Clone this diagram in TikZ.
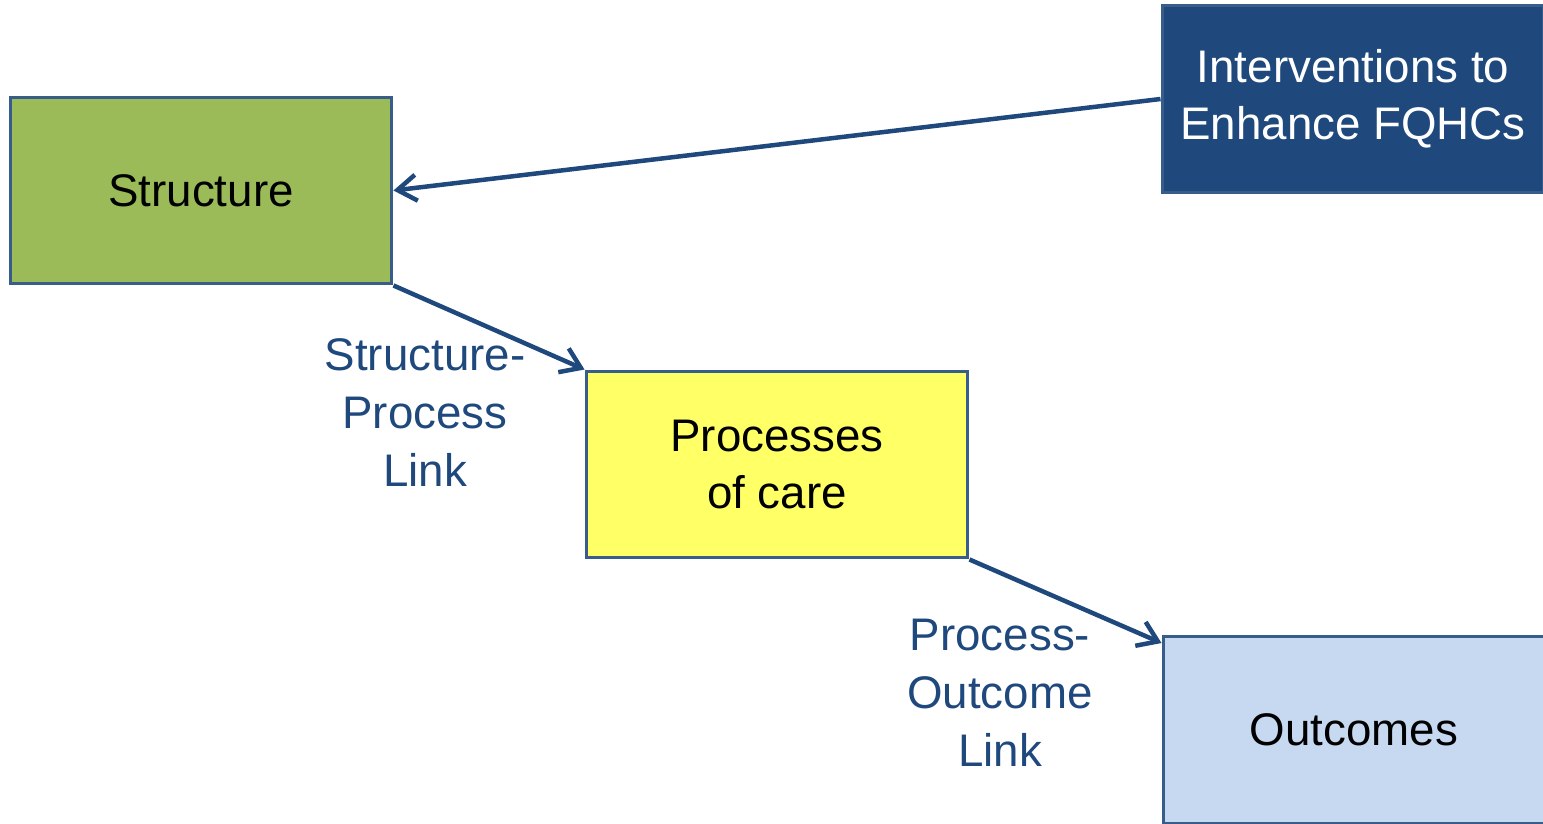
\documentclass[tikz,border=0pt]{standalone}
\usepackage{fontspec}
\setmainfont{Liberation Sans}
\usetikzlibrary{arrows.meta}
\definecolor{edgeblue}{HTML}{385D8A}
\definecolor{darkblue}{HTML}{1F497D}
\definecolor{boxgreen}{HTML}{9BBB59}
\definecolor{boxyellow}{HTML}{FFFF66}
\definecolor{boxlight}{HTML}{C6D9F1}
\tikzset{
  box/.style={draw=edgeblue,line width=0.06cm,minimum width=7.64cm,minimum height=3.74cm,
    align=center,font=\fontsize{26}{32.5}\selectfont,inner sep=0},
  link/.style={darkblue,line width=0.09cm,-{Straight Barb[length=0.38cm,width=0.52cm]}},
  linktext/.style={text=darkblue,align=center,font=\fontsize{26}{33}\selectfont}
}
\begin{document}
\begin{tikzpicture}[x=0.02cm,y=-0.02cm]%
\useasboundingbox (0,0) rectangle (1543,823);

    % the four boxes
    \node[box,fill=boxgreen] (struct) at (201,190.5) {Structure};
    \node[box,fill=darkblue,text=white] (interv) at (1353,99) {Interventions to\\Enhance FQHCs};
    \node[box,fill=boxyellow] (proc) at (777,464.5) {Processes\\of care};
    \node[box,fill=boxlight] (outc) at (1354,730) {Outcomes};

    % link labels
    \node[linktext] (splink) at (425,413) {Structure-\\Process\\Link};
    \node[linktext] (polink) at (1000,693) {Process-\\Outcome\\Link};

    \draw[link] (interv.west) -- (struct.east);
    \draw[link] (struct.south east) -- (proc.north west);
    \draw[link] (proc.south east) -- ([yshift=-0.16cm]outc.north west);

\end{tikzpicture}
\end{document}
